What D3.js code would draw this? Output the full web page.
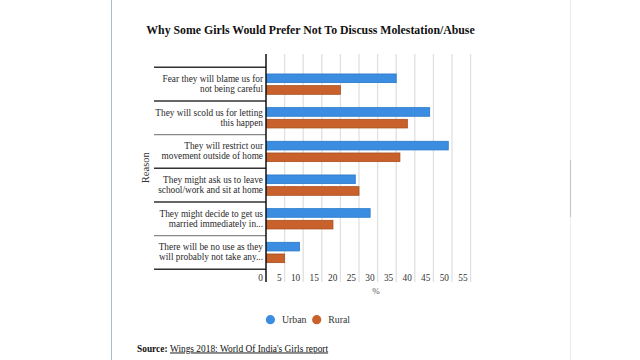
<!DOCTYPE html>
<html>
<head>
<meta charset="utf-8">
<script src="https://cdn.jsdelivr.net/npm/d3@7"></script>
<style>
  html, body { margin: 0; padding: 0; background: #fff; }
  svg { display: block; }
  text { font-family: "Liberation Serif", "Times New Roman", serif; fill: #222; }
</style>
</head>
<body>
<svg id="chart" width="640" height="360"></svg>
<script>
const categories = [
  ["Fear they will blame us for", "not being careful"],
  ["They will scold us for letting", "this happen"],
  ["They will restrict our", "movement outside of home"],
  ["They might ask us to leave", "school/work and sit at home"],
  ["They might decide to get us", "married immediately in..."],
  ["There will be no use as they", "will probably not take any..."]
];
const seriesNames = ["Urban", "Rural"];
const urban = [35, 44, 49, 24, 28, 9];
const rural = [20, 38, 36, 25, 18, 5];
const ticks = [0, 5, 10, 15, 20, 25, 30, 35, 40, 45, 50, 55];
const title = "Why Some Girls Would Prefer Not To Discuss Molestation/Abuse";
const colors = { Urban: "#3a8de0", Rural: "#c8612b" };
const strokes = { Urban: "#2a78c8", Rural: "#a84f1f" };

const svg = d3.select("#chart");

// page frame
svg.append("line").attr("x1", 111.5).attr("x2", 111.5).attr("y1", 0).attr("y2", 360)
  .attr("stroke", "#a9bccc").attr("stroke-width", 1);
svg.append("line").attr("x1", 570.5).attr("x2", 570.5).attr("y1", 0).attr("y2", 360)
  .attr("stroke", "#ececec").attr("stroke-width", 1);
svg.append("line").attr("x1", 570.5).attr("x2", 570.5).attr("y1", 160).attr("y2", 217)
  .attr("stroke", "#c8c8c8").attr("stroke-width", 1.2);

// title
svg.append("text").attr("x", 310.5).attr("y", 34).attr("text-anchor", "middle")
  .style("font-size", "11.8px").style("font-weight", "bold").style("fill", "#111")
  .text(title);

const ids = categories.map((d, i) => i);
const x = d3.scaleLinear().domain([0, 55]).range([266, 470.6]);
const y = d3.scaleBand().domain(ids).range([67.3, 269.3]).padding(0);
const yi = d3.scaleBand().domain(seriesNames).range([0, y.bandwidth()])
  .paddingInner(0.26).paddingOuter(0.57);

// gridlines
svg.append("g").selectAll("line").data(ticks.slice(1)).join("line")
  .attr("x1", d => x(d)).attr("x2", d => x(d))
  .attr("y1", 54).attr("y2", 282)
  .attr("stroke", "#e0e0e0").attr("stroke-width", 1.3);

// tick labels
svg.append("g").selectAll("text").data(ticks).join("text")
  .attr("x", d => x(d) - 3).attr("y", 280.5).attr("text-anchor", "end")
  .style("font-size", "9.3px").style("fill", "#333")
  .text(d => d);

svg.append("text").attr("x", 376).attr("y", 294).attr("text-anchor", "middle")
  .style("font-size", "9px").style("fill", "#555").text("%");

// separators
svg.append("g").selectAll("line").data(d3.range(categories.length + 1)).join("line")
  .attr("x1", 154).attr("x2", 266)
  .attr("y1", i => i < categories.length ? y(i) : y(categories.length - 1) + y.bandwidth())
  .attr("y2", i => i < categories.length ? y(i) : y(categories.length - 1) + y.bandwidth())
  .attr("stroke", i => (i === 2 || i === 5) ? "#888" : "#333").attr("stroke-width", 1.4);

// category labels
const lab = svg.append("g").selectAll("text").data(ids).join("text")
  .attr("text-anchor", "end").style("font-size", "9.3px").style("fill", "#2a2a2a");
lab.each(function(i) {
  const t = d3.select(this);
  const cy = y(i) + y.bandwidth() / 2;
  categories[i].forEach((line, k) => {
    t.append("tspan").attr("x", 263).attr("y", cy - 2 + k * 10).text(line);
  });
});

// axis title
svg.append("text").attr("transform", "translate(148.5,167.7) rotate(-90)")
  .attr("text-anchor", "middle").style("font-size", "10.5px").style("fill", "#333")
  .text("Reason");

// bars
const rows = ids.map(i => ({ i, vals: [{ s: "Urban", v: urban[i] }, { s: "Rural", v: rural[i] }] }));
const g = svg.append("g").selectAll("g").data(rows).join("g")
  .attr("transform", d => `translate(0,${y(d.i)})`);
g.selectAll("rect").data(d => d.vals).join("rect")
  .attr("x", x(0) + 0.5).attr("y", d => yi(d.s))
  .attr("width", d => x(d.v) - x(0) - 0.5).attr("height", yi.bandwidth())
  .attr("fill", d => colors[d.s]).attr("stroke", d => strokes[d.s]).attr("stroke-width", 0.8);

// vertical axis line
svg.append("line").attr("x1", x(0)).attr("x2", x(0)).attr("y1", 54).attr("y2", 282)
  .attr("stroke", "#111").attr("stroke-width", 1.5);

// legend
const legendX = [270.4, 316.7];
const lg = svg.append("g").selectAll("g").data(seriesNames).join("g")
  .attr("transform", (d, i) => `translate(${legendX[i]},319.7)`);
lg.append("circle").attr("r", 4.6).attr("fill", d => colors[d]);
lg.append("text").attr("x", 11.5).attr("y", 3.3).style("font-size", "9.8px").style("fill", "#333").text(d => d);

// source
const src = svg.append("text").attr("x", 137).attr("y", 351.5).style("font-size", "9.4px").style("fill", "#111");
src.append("tspan").style("font-weight", "bold").text("Source: ");
src.append("tspan").style("text-decoration", "underline").text("Wings 2018: World Of India's Girls report");
</script>
</body>
</html>
